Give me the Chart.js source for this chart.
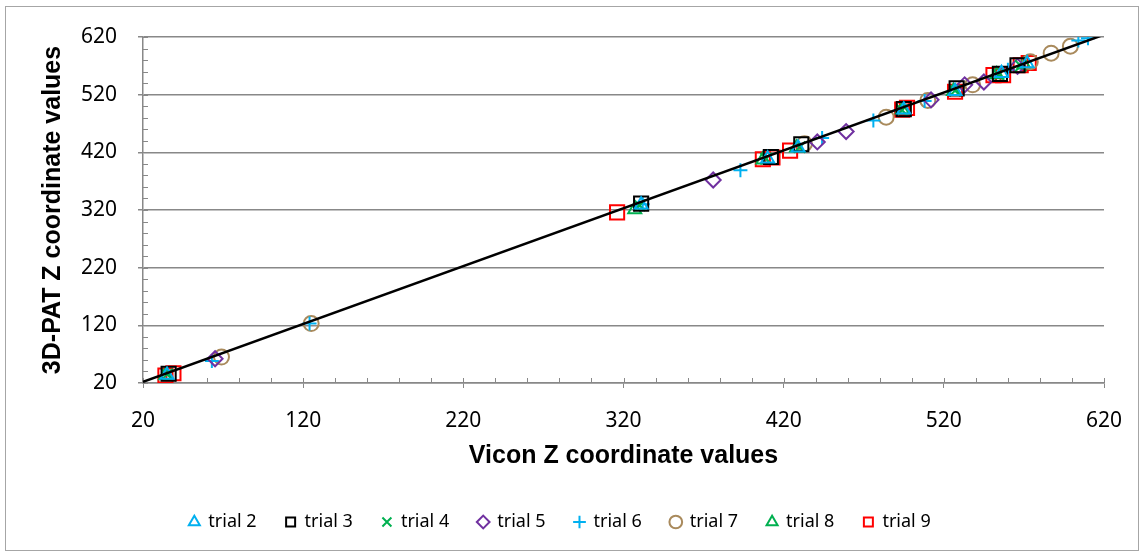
<!DOCTYPE html>
<html lang="en">
<head>
<meta charset="utf-8">
<title>3D-PAT vs Vicon Z coordinate values</title>
<script src="https://cdn.jsdelivr.net/npm/chart.js"></script>
<style>
    html, body { margin: 0; padding: 0; background: #fff; }
    #wrap { position: relative; width: 1144px; height: 559px; }
    #wrap canvas { position: absolute; left: 0; top: 0; }
    #frame { position: absolute; left: 5px; top: 6px; width: 1132px; height: 543px;
             border: 1px solid #a6a6a6; pointer-events: none; }
</style>
</head>
<body>
<div id="wrap">
    <canvas id="chart" width="1144" height="559"></canvas>
    <div id="frame"></div>
</div>
<script>
// [Vicon Z, 3D-PAT Z] pairs
const trial2 = [[35,34],[331,329],[410,409],[429,428],[495,494],[527,526],[556,557],[572,574]];
const trial3 = [[36,36],[331,331],[412,412],[431,434],[495,495],[528,531],[555,556],[566,571]];
const trial4 = [[35,35],[330,328],[409,409],[430,429],[494,493],[527,527],[554,555],[568,570]];
const trial5 = [[65,62],[376,372],[441,438],[459,456],[512,511],[533,537],[545,542],[566,569]];
const trial6 = [[63,58],[124,123],[332,330],[393,389],[444,445],[476,475],[508,509],[560,563],[604,614],[610,618]];
const trial7 = [[69,65],[125,123],[433,435],[484,481],[510,510],[538,537],[574,577],[587,592],[599,604]];
const trial8 = [[34,33],[327,321],[407,407],[428,428],[494,494],[526,526],[553,555],[570,572]];
const trial9 = [[34,33],[39,37],[316,316],[407,408],[413,411],[424,423],[494,494],[497,497],[527,525],[551,554],[557,554],[568,571],[573,575]];
const trendLine = [[20,22],[620,624]];

const axisMin = 20, axisMax = 620, majorStep = 100, minorStep = 20;

const axisGray = '#888888';
const tickFont = { family: 'Noto Sans', size: 21 };
const titleFont = { family: 'Liberation Sans', size: 25, weight: 'bold' };

function toPoints(arr) {
    return arr.map(p => ({ x: p[0], y: p[1] }));
}

function trial(label, arr, color, style, radius) {
    return {
        label: label,
        data: toPoints(arr),
        pointStyle: style,
        pointRadius: radius,
        pointHoverRadius: radius,
        pointBorderColor: color,
        pointBackgroundColor: 'transparent',
        pointBorderWidth: 2,
        borderColor: color,
        backgroundColor: 'transparent'
    };
}

const datasets = [
    {
        label: 'trend',
        type: 'line',
        data: toPoints(trendLine),
        borderColor: '#000',
        borderWidth: 2.5,
        pointRadius: 0,
        fill: false,
        order: -1
    },
    trial('trial 2', trial2, '#00b0f0', 'triangle', 7.5),
    trial('trial 3', trial3, '#000000', 'rect', 10),
    trial('trial 4', trial4, '#00b050', 'crossRot', 8),
    trial('trial 5', trial5, '#7030a0', 'rectRot', 7.5),
    trial('trial 6', trial6, '#00b0f0', 'cross', 7),
    trial('trial 7', trial7, '#a98a5c', 'circle', 7.5),
    trial('trial 8', trial8, '#00b050', 'triangle', 7.5),
    trial('trial 9', trial9, '#ff0000', 'rect', 10)
];

// small ticks every 20 units, drawn inside the plot area
const innerTicks = {
    id: 'innerTicks',
    beforeDatasetsDraw(chart) {
        const { ctx, chartArea, scales: { x, y } } = chart;
        ctx.save();
        ctx.strokeStyle = axisGray;
        ctx.lineWidth = 1;
        ctx.beginPath();
        for (let v = axisMin; v <= axisMax; v += minorStep) {
            const px = Math.round(x.getPixelForValue(v)) + 0.5;
            ctx.moveTo(px, chartArea.bottom);
            ctx.lineTo(px, chartArea.bottom - 5);
            const py = Math.round(y.getPixelForValue(v)) + 0.5;
            ctx.moveTo(chartArea.left, py);
            ctx.lineTo(chartArea.left + 5, py);
        }
        ctx.stroke();
        ctx.restore();
    }
};

new Chart(document.getElementById('chart'), {
    type: 'scatter',
    data: { datasets: datasets },
    options: {
        responsive: false,
        animation: false,
        layout: { padding: { left: 16, right: 40, top: 37, bottom: 18 } },
        scales: {
            x: {
                type: 'linear',
                min: axisMin,
                max: axisMax,
                ticks: { stepSize: majorStep, font: tickFont, color: '#000', padding: 20 },
                grid: { drawOnChartArea: false, color: axisGray, tickLength: 5 },
                border: { color: axisGray, width: 1.5 },
                title: {
                    display: true,
                    text: 'Vicon Z coordinate values',
                    font: titleFont,
                    color: '#000',
                    padding: { top: 0, bottom: 13 }
                },
                afterFit: s => { s.height = 101; }
            },
            y: {
                type: 'linear',
                min: axisMin,
                max: axisMax,
                ticks: { stepSize: majorStep, font: tickFont, color: '#000', padding: 21 },
                grid: { color: axisGray, tickLength: 5, lineWidth: 1.5 },
                border: { color: axisGray, width: 1.5 },
                title: {
                    display: true,
                    text: '3D-PAT Z coordinate values',
                    font: titleFont,
                    color: '#000',
                    padding: { top: 22, bottom: 0 }
                },
                afterFit: s => { s.width = 127; }
            }
        },
        plugins: {
            legend: {
                position: 'bottom',
                labels: {
                    usePointStyle: true,
                    boxWidth: 10,
                    boxHeight: 9,
                    padding: 29,
                    color: '#000',
                    font: { family: 'Noto Sans', size: 18 },
                    filter: item => item.text !== 'trend'
                }
            },
            tooltip: { enabled: false }
        }
    },
    plugins: [innerTicks]
});
</script>
</body>
</html>
